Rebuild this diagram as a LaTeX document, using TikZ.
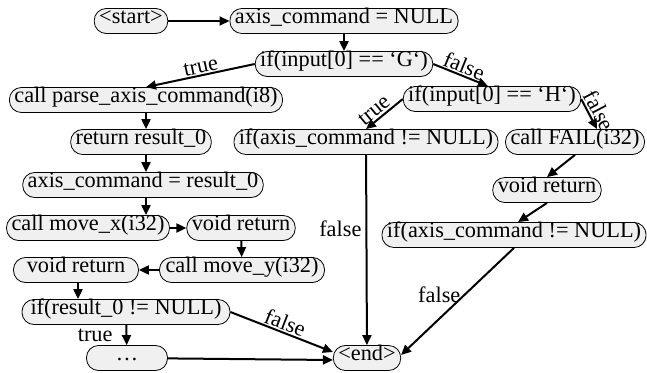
\documentclass[tikz,border=0pt]{standalone}
\usepackage{fontspec}
\setmainfont{Liberation Serif}
\usetikzlibrary{arrows.meta}
\tikzset{
  box/.style={draw=black, line width=0.8pt, fill=black!6, rounded corners=12pt,
    inner xsep=5pt, inner ysep=2.5pt, text height=0.7em, text depth=0.2em,
    minimum height=25pt, font=\fontsize{22.3}{24}\selectfont},
  flow/.style={line width=2pt, -{Triangle[length=10pt,width=9pt]}},
  lbl/.style={font=\fontsize{22.3}{24}\selectfont, inner sep=1pt}
}
\begin{document}
\begin{tikzpicture}[x=1pt,y=-1pt]
\useasboundingbox (0,0) rectangle (647,372);
\node[box] (start) at (131,21) {<start>};
\node[box] (axisnull) at (344,21) {axis\_command = NULL};
\node[box] (ifG) at (344,64) {if(input[0] == ‘G‘)};
\node[box] (parse) at (146,100) {call parse\_axis\_command(i8)};
\node[box] (ifH) at (492,99) {if(input[0] == ‘H‘)};
\node[box] (ret) at (141,142) {return result\_0};
\node[box] (mid) at (366,142) {if(axis\_command != NULL)};
\node[box] (fail) at (575,142) {call FAIL(i32)};
\node[box] (axres) at (143,185) {axis\_command = result\_0};
\node[box] (voidR) at (547,190) {void return};
\node[box] (movex) at (88,228) {call move\_x(i32)};
\node[box] (voidM) at (241,228) {void return};
\node[box] (ifR) at (514,235) {if(axis\_command != NULL)};
\node[box, minimum width=165pt] (movey) at (242,270) {call move\_y(i32)};
\node[box, minimum width=125pt] (voidL) at (76,270) {void return};
\node[box, minimum width=208pt] (ifres) at (126,312) {if(result\_0 != NULL)};
\node[box, minimum width=81pt] (dots) at (127,358) {…};
\node[box] (end) at (367,358) {<end>};

\draw[flow] (start) -- (axisnull);
\draw[flow] (axisnull) -- (ifG);
\draw[flow] (ifG.west) -- node[lbl, sloped, above, pos=0.48] {true} (parse.north);
\draw[flow] (ifG.east) -- node[lbl, sloped, above, pos=0.5] {false} ([xshift=-4pt]ifH.north);
\draw[flow] (ifH.west) -- node[lbl, sloped, above=1pt, pos=0.62] {true} (mid.north);
\draw[flow] (ifH.east) -- node[lbl, sloped, above=1pt, pos=0.55] {false} ([xshift=22pt]fail.north);
\draw[flow] (parse.south) -- (parse.south |- ret.north);
\draw[flow] (parse.south |- ret.south) -- (parse.south |- axres.north);
\draw[flow] (parse.south |- axres.south) -- (parse.south |- movex.north);
\draw[flow] (movex) -- (voidM);
\draw[flow] (voidM) -- (movey);
\draw[flow] (movey) -- (voidL);
\draw[flow] (voidL.south -| 78,0) -- (ifres.north -| 78,0);
\draw[flow] (ifres) -- node[lbl, left=12pt] {true} (dots);
\draw[flow] (ifres.east) -- node[lbl, sloped, above, pos=0.5] {false} ([yshift=6pt]end.west);
\draw[flow] (dots) -- ([yshift=-2pt]end.west);
\draw[flow] (mid) -- node[lbl, left=3pt, pos=0.39] {false} (end);
\draw[flow] (fail.south) -- (voidR.north);
\draw[flow] (voidR.south) -- ([xshift=4pt]ifR.north);
\draw[flow] (ifR.south) -- node[lbl, left=2pt, pos=0.44] {false} ([yshift=3pt]end.east);
\end{tikzpicture}
\end{document}
